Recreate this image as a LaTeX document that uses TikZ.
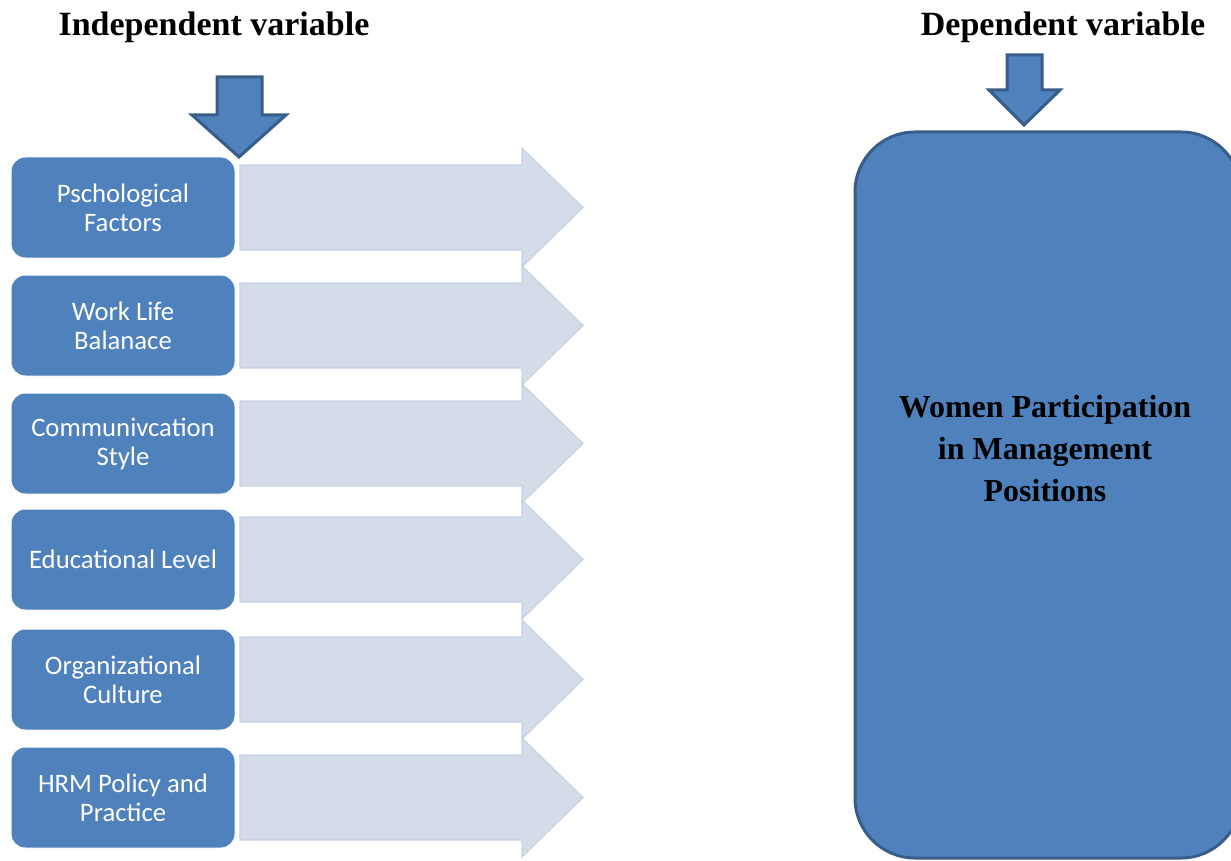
\documentclass[tikz,border=0pt]{standalone}
\usepackage{fontspec}
\setmainfont{Carlito}
\newfontfamily\titlefont{Liberation Serif}
\definecolor{accent}{HTML}{4F81BD}
\definecolor{accentdark}{HTML}{385D8A}
\definecolor{lightarrow}{HTML}{D4DCEA}
\definecolor{lightedge}{HTML}{C8D2E5}
\tikzset{
  factor/.style={fill=accent, draw=white, line width=1pt, rounded corners=14pt,
    minimum width=224pt, minimum height=101pt, text=white, align=center,
    font=\fontsize{26.7}{29}\selectfont, inner sep=2pt},
  title/.style={font=\titlefont\bfseries\fontsize{34}{40}\selectfont, text=black},
  downarrow/.style={fill=accent, draw=accentdark, line width=3pt, line join=miter},
  flowarrow/.style={fill=lightarrow, draw=lightedge, line width=1.2pt, line join=miter},
  bigbox/.style={fill=accent, draw=accentdark, line width=3pt, rounded corners=60pt}
}
\begin{document}
\begin{tikzpicture}[x=1pt,y=-1pt]
\useasboundingbox (0,0) rectangle (1231,861);
\clip (0,0) rectangle (1231,861);
% titles
\node[title] (tIndep) at (214,27) {Independent variable};
\node[title] (tDep) at (1063,27) {Dependent variable};
% factor boxes and light arrows
\foreach \name/\top/\txt in {f1/157/{Pschological\\Factors}, f2/275/{Work Life\\Balanace},
  f3/393/{Communivcation\\Style}, f4/509/{Educational Level}, f5/629/{Organizational\\Culture},
  f6/747/{HRM Policy and\\Practice}}{
  \pgfmathsetmacro{\c}{\top+50.5}
  \draw[flowarrow] (240,\c-42.5) -- (522,\c-42.5) -- (522,\c-59.5) -- (583,\c) -- (522,\c+59.5) -- (522,\c+42.5) -- (240,\c+42.5) -- cycle;
  \node[factor] (\name) at (123,\c) {\txt};
}
% left down arrow
\draw[downarrow] (217,77) -- (262,77) -- (262,115) -- (286,115) -- (239,157) -- (192,115) -- (217,115) -- cycle;
% big box
\node[bigbox, minimum width=386pt, minimum height=726pt] (dep) at (1048,495) {};
\node[font=\titlefont\bfseries\fontsize{32}{42}\selectfont, align=center, text=black] (depText) at (1045,449) {Women Participation\\in Management\\Positions};
% right down arrow
\draw[downarrow] (1007,55) -- (1042,55) -- (1042,90) -- (1060,90) -- (1024,125) -- (989,90) -- (1007,90) -- cycle;
\end{tikzpicture}
\end{document}
